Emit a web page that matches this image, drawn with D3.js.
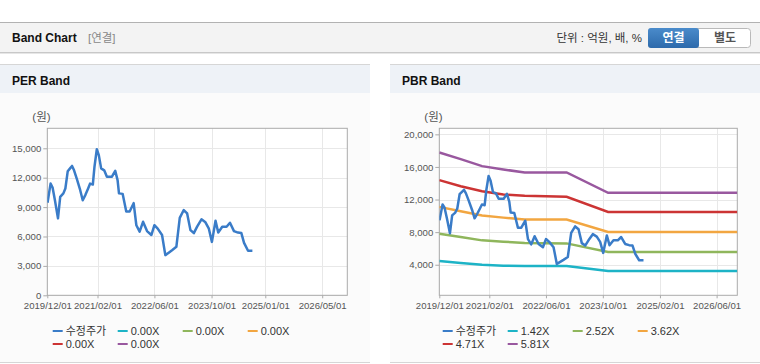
<!DOCTYPE html>
<html>
<head>
<meta charset="utf-8">
<script src="https://cdn.jsdelivr.net/npm/d3@7"></script>
<style>
    body { margin: 0; background: #ffffff; }
    svg { display: block; font-family: "Liberation Sans", "Noto Sans CJK KR", sans-serif; }
</style>
</head>
<body>
<svg id="chart"></svg>
<script>

// price (수정주가), same in both panels
const priceDates = [
    "2019-12-03", "2019-12-29", "2020-01-15", "2020-02-04", "2020-03-01", "2020-03-20",
    "2020-04-16", "2020-05-03", "2020-05-23", "2020-06-12", "2020-06-29", "2020-07-16",
    "2020-08-08", "2020-09-06", "2020-09-28", "2020-10-21", "2020-11-13", "2020-11-30",
    "2020-12-23", "2021-01-06", "2021-01-26", "2021-02-12", "2021-03-04", "2021-03-30",
    "2021-04-22", "2021-06-04", "2021-07-02", "2021-07-22", "2021-08-03", "2021-09-03",
    "2021-10-04", "2021-11-02", "2021-12-06", "2021-12-29", "2022-01-26", "2022-02-24",
    "2022-03-30", "2022-05-06", "2022-06-01", "2022-06-29", "2022-08-05", "2022-09-02",
    "2022-10-01", "2022-10-29", "2022-12-05", "2023-01-03", "2023-02-06", "2023-03-07",
    "2023-04-04", "2023-05-03", "2023-05-31", "2023-07-07", "2023-08-10", "2023-09-08",
    "2023-10-04", "2023-11-04", "2023-11-27", "2023-12-31", "2024-02-06", "2024-03-06",
    "2024-04-09", "2024-05-13", "2024-06-11", "2024-07-04", "2024-08-07", "2024-09-13"
];

const priceValues = [
    9450, 11400, 11000, 9700, 7850, 10050,
    10400, 10900, 12650, 12950, 13200, 12750,
    11900, 10750, 9700, 10250, 10900, 11400,
    11300, 13100, 14900, 14300, 12950, 12750,
    12100, 12100, 12700, 11750, 10400, 10350,
    8550, 8550, 9400, 7150, 6500, 7500,
    6550, 6150, 7150, 6800, 6150, 4100,
    4350, 4600, 4950, 7900, 8700, 8350,
    6650, 6350, 7000, 7750, 7450, 6800,
    5450, 7600, 6400, 7000, 7000, 7400,
    6550, 6400, 6350, 5350, 4550, 4550
];

// PBR band lines
const bandDates = ["2019-12-01", "2020-06-01", "2020-12-01", "2021-06-01", "2021-12-01", "2022-11-25", "2023-11-15", "2026-11-25"];
const band142 = [4450, 4200, 4000, 3880, 3830, 3830, 3220, 3220];
const band252 = [7810, 7400, 6990, 6830, 6660, 6620, 5560, 5560];
const band362 = [11100, 10560, 10030, 9780, 9540, 9540, 8020, 8020];
const band471 = [14380, 13640, 13020, 12610, 12450, 12330, 10480, 10480];
const band581 = [17780, 16960, 16100, 15690, 15320, 15320, 12820, 12820];

const seriesColors = ["#3a7cc8", "#1db3c6", "#8fb65c", "#f2a641", "#cc3434", "#99589f"];

const perLegend = ["수정주가", "0.00X", "0.00X", "0.00X", "0.00X", "0.00X"];
const pbrLegend = ["수정주가", "1.42X", "2.52X", "3.62X", "4.71X", "5.81X"];

const perTicksY = [0, 3000, 6000, 9000, 12000, 15000];
const pbrTicksY = [4000, 8000, 12000, 16000, 20000];
const perTicksX = ["2019/12/01", "2021/02/01", "2022/06/01", "2023/10/01", "2025/01/01", "2026/05/01"];
const pbrTicksX = ["2019/12/01", "2021/02/01", "2022/06/01", "2023/10/01", "2025/02/01", "2026/06/01"];

const width = 760;
const height = 364;

const parseDash = d3.timeParse("%Y-%m-%d");
const parseSlash = d3.timeParse("%Y/%m/%d");
const formatSlash = d3.timeFormat("%Y/%m/%d");

const svg = d3.select("#chart").attr("width", width).attr("height", height);

// top header bar
svg.append("rect").attr("x", 0).attr("y", 22).attr("width", width).attr("height", 31).attr("fill", "#f3f3f3");
svg.append("line").attr("x1", 0).attr("x2", width).attr("y1", 22.5).attr("y2", 22.5).attr("stroke", "#b2b2b2");
svg.append("line").attr("x1", 0).attr("x2", width).attr("y1", 52.5).attr("y2", 52.5).attr("stroke", "#c8c8c8");
svg.append("line").attr("x1", 0).attr("x2", width).attr("y1", 53.5).attr("y2", 53.5).attr("stroke", "#e6e6e6");

svg.append("text").attr("x", 12).attr("y", 42).attr("font-size", 12).attr("font-weight", "bold")
    .attr("fill", "#111").text("Band Chart");
svg.append("text").attr("x", 88).attr("y", 42).attr("font-size", 11.5).attr("fill", "#888").text("[연결]");

svg.append("text").attr("x", 642).attr("y", 42).attr("text-anchor", "end").attr("font-size", 11.5)
    .attr("fill", "#333").text("단위 : 억원, 배, %");

const grad = svg.append("defs").append("linearGradient").attr("id", "btn").attr("x1", 0).attr("x2", 0).attr("y1", 0).attr("y2", 1);
grad.append("stop").attr("offset", "0%").attr("stop-color", "#4a8bcb");
grad.append("stop").attr("offset", "100%").attr("stop-color", "#2d6aab");

svg.append("rect").attr("x", 648.5).attr("y", 28.5).attr("width", 102).attr("height", 19).attr("rx", 3)
    .attr("fill", "#ffffff").attr("stroke", "#b9b9b9");
svg.append("rect").attr("x", 648).attr("y", 28).attr("width", 51).attr("height", 20).attr("rx", 3).attr("fill", "url(#btn)");
svg.append("text").attr("x", 673.5).attr("y", 42).attr("text-anchor", "middle").attr("font-size", 12)
    .attr("font-weight", "bold").attr("fill", "#ffffff").text("연결");
svg.append("text").attr("x", 725).attr("y", 42).attr("text-anchor", "middle").attr("font-size", 12)
    .attr("font-weight", "bold").attr("fill", "#555").text("별도");

function draw_panel(opt)
{
    const g = svg.append("g");

    g.append("rect").attr("x", opt.px).attr("y", 64).attr("width", opt.pw).attr("height", 299).attr("fill", "#fbfbfb");
    g.append("rect").attr("x", opt.px).attr("y", 64).attr("width", opt.pw).attr("height", 29).attr("fill", "#eef2f7");
    g.append("line").attr("x1", opt.px).attr("x2", opt.px + opt.pw).attr("y1", 64.5).attr("y2", 64.5).attr("stroke", "#d6d6d6");
    g.append("line").attr("x1", opt.px).attr("x2", opt.px + opt.pw).attr("y1", 362.5).attr("y2", 362.5).attr("stroke", "#d6d6d6");

    g.append("text").attr("x", opt.px + 12).attr("y", 85).attr("font-size", 12).attr("font-weight", "bold")
        .attr("fill", "#111").text(opt.title);

    const x = d3.scaleTime().domain(opt.xDomain).range([opt.left, opt.right]);
    const y = d3.scaleLinear().domain(opt.yDomain).range([295.3, 128.3]);

    g.append("rect").attr("x", opt.left).attr("y", 128.3).attr("width", opt.right - opt.left)
        .attr("height", 167).attr("fill", "#ffffff");

    g.append("text").attr("x", opt.left - 15).attr("y", 121).attr("font-size", 11.5).attr("fill", "#555").text("(원)");

    // grid
    g.append("g").selectAll("line").data(opt.ticksY).join("line")
        .attr("x1", opt.left).attr("x2", opt.right)
        .attr("y1", d => Math.round(y(d)) + 0.5).attr("y2", d => Math.round(y(d)) + 0.5)
        .attr("stroke", "#e8e8e8");
    g.append("g").selectAll("line").data(opt.ticksX).join("line")
        .attr("y1", 128.3).attr("y2", 295.3)
        .attr("x1", d => Math.round(x(parseSlash(d))) + 0.5).attr("x2", d => Math.round(x(parseSlash(d))) + 0.5)
        .attr("stroke", "#e8e8e8");

    const yAxis = g.append("g").attr("transform", "translate(" + opt.left + ",0)")
        .call(d3.axisLeft(y).tickValues(opt.ticksY).tickSize(4).tickPadding(2).tickFormat(d3.format(",")));
    const xAxis = g.append("g").attr("transform", "translate(0,295.3)")
        .call(d3.axisBottom(x).tickValues(opt.ticksX.map(parseSlash)).tickSize(3).tickPadding(4).tickFormat(formatSlash));

    [yAxis, xAxis].forEach(a =>
    {
        a.select(".domain").remove();
        a.selectAll("line").attr("stroke", "#aaa");
        a.selectAll("text").attr("fill", "#555").attr("font-size", 9.6)
            .attr("font-family", "\"Liberation Sans\", sans-serif");
    });

    g.append("rect").attr("x", opt.left).attr("y", 128.3).attr("width", opt.right - opt.left).attr("height", 167)
        .attr("fill", "none").attr("stroke", "#aaa");

    const clipId = "clip" + opt.px;
    g.append("clipPath").attr("id", clipId).append("rect")
        .attr("x", opt.left).attr("y", 128.3).attr("width", opt.right - opt.left).attr("height", 167);

    const line = d3.line().x(d => x(d[0])).y(d => y(d[1]));
    const lines = g.append("g").attr("clip-path", "url(#" + clipId + ")");

    opt.bands.forEach((band, i) =>
    {
        lines.append("path")
            .datum(bandDates.map((d, j) => [parseDash(d), band[j]]))
            .attr("d", line).attr("fill", "none")
            .attr("stroke", seriesColors[i + 1]).attr("stroke-width", 2.5);
    });

    lines.append("path")
        .datum(priceDates.map((d, j) => [parseDash(d), priceValues[j]]))
        .attr("d", line).attr("fill", "none")
        .attr("stroke", seriesColors[0]).attr("stroke-width", 2.5).attr("stroke-linejoin", "round");

    // legend
    const legend = g.append("g").selectAll("g").data(opt.legend).join("g")
        .attr("transform", (d, i) => "translate(" + (opt.px + 52.7 + (i % 4) * 65) + "," + (331 + Math.floor(i / 4) * 13) + ")");
    legend.append("line").attr("x1", 0).attr("x2", 10).attr("y1", 0).attr("y2", 0)
        .attr("stroke", (d, i) => seriesColors[i]).attr("stroke-width", 2);
    legend.append("text").attr("x", 13).attr("y", 4).attr("font-size", 11).attr("fill", "#333").text(d => d);
}

draw_panel({
    px: 0, pw: 370, title: "PER Band",
    left: 47.3, right: 347.3,
    xDomain: [parseDash("2019-12-01"), parseDash("2026-12-01")],
    yDomain: [0, 17040],
    ticksX: perTicksX, ticksY: perTicksY,
    legend: perLegend, bands: []
});

draw_panel({
    px: 390, pw: 370, title: "PBR Band",
    left: 439.3, right: 737.3,
    xDomain: [parseDash("2019-12-01"), parseDash("2026-11-25")],
    yDomain: [250, 20740],
    ticksX: pbrTicksX, ticksY: pbrTicksY,
    legend: pbrLegend, bands: [band142, band252, band362, band471, band581]
});

</script>
</body>
</html>
